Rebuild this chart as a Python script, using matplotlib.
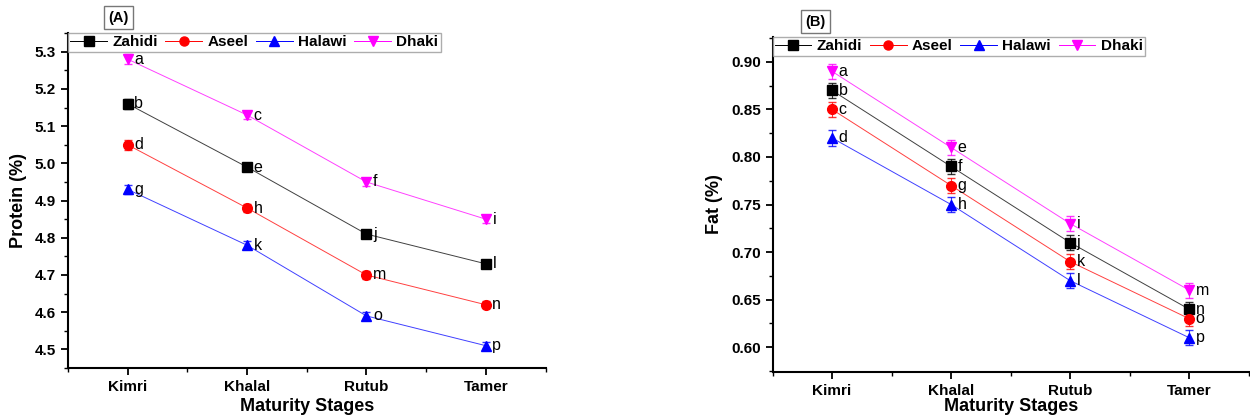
import matplotlib.pyplot as plt
from matplotlib.ticker import MultipleLocator
from matplotlib.lines import Line2D

plt.rcParams['font.family'] = ['Liberation Sans', 'DejaVu Sans']

stages = ['Kimri', 'Khalal', 'Rutub', 'Tamer']
cultivars = ['Zahidi', 'Aseel', 'Halawi', 'Dhaki']

# Protein (%)
protein_zahidi = [5.16, 4.99, 4.81, 4.73]
protein_aseel = [5.05, 4.88, 4.70, 4.62]
protein_halawi = [4.93, 4.78, 4.59, 4.51]
protein_dhaki = [5.28, 5.13, 4.95, 4.85]
protein_err = [0.013, 0.011, 0.011, 0.010]
protein_letters = [['b', 'e', 'j', 'l'], ['d', 'h', 'm', 'n'],
                   ['g', 'k', 'o', 'p'], ['a', 'c', 'f', 'i']]

# Fat (%)
fat_zahidi = [0.87, 0.79, 0.71, 0.64]
fat_aseel = [0.85, 0.77, 0.69, 0.63]
fat_halawi = [0.82, 0.75, 0.67, 0.61]
fat_dhaki = [0.89, 0.81, 0.73, 0.66]
fat_err = [0.008, 0.008, 0.008, 0.008]
fat_letters = [['b', 'f', 'j', 'n'], ['c', 'g', 'k', 'o'],
               ['d', 'h', 'l', 'p'], ['a', 'e', 'i', 'm']]

colors = ['black', 'red', 'blue', 'magenta']
markers = ['s', 'o', '^', 'v']


def draw_panel(ax, series, err, letters, ylabel, ylim, major, minor, tag, tag_x, xpad):
    x = list(range(1, len(stages) + 1))
    handles = []
    for i, vals in enumerate(series):
        ax.plot(x, vals, color=colors[i], lw=0.7, alpha=0.75, zorder=2)
        ax.errorbar(x, vals, yerr=err, fmt='none', ecolor=colors[i],
                    elinewidth=0.8, capsize=3, alpha=0.8, zorder=3)
        ax.plot(x, vals, ls='none', marker=markers[i], markersize=7,
                color=colors[i], zorder=4)
        handles.append(Line2D([], [], color=colors[i], lw=0.7,
                              marker=markers[i], markersize=6.5,
                              label=cultivars[i]))
        for xi, v, lt in zip(x, vals, letters[i]):
            ax.text(xi + 0.055, v, lt, fontsize=11.5, va='center', ha='left')
    ax.set_xlim(0.5, 4.5)
    ax.set_ylim(*ylim)
    ax.set_xticks(x)
    ax.set_xticklabels(stages, fontweight='bold', fontsize=11)
    ax.xaxis.set_minor_locator(MultipleLocator(0.5))
    ax.yaxis.set_major_locator(MultipleLocator(major))
    ax.yaxis.set_minor_locator(MultipleLocator(minor))
    for lbl in ax.get_yticklabels():
        lbl.set_fontweight('bold')
        lbl.set_fontsize(11)
    ax.spines['top'].set_visible(False)
    ax.spines['right'].set_visible(False)
    ax.spines['left'].set_linewidth(1.5)
    ax.spines['bottom'].set_linewidth(1.5)
    ax.tick_params(which='major', direction='out', length=5, width=1.3)
    ax.tick_params(which='minor', direction='out', length=3, width=1.0)
    ax.set_xlabel('Maturity Stages', fontweight='bold', fontsize=13, labelpad=xpad)
    ax.set_ylabel(ylabel, fontweight='bold', fontsize=13, labelpad=6)
    leg = ax.legend(handles=handles, loc='upper left', bbox_to_anchor=(0.0, 1.0),
                    ncol=4, frameon=True, fancybox=False, borderpad=0.15,
                    handlelength=2.4, columnspacing=0.5, handletextpad=0.35,
                    borderaxespad=0.0, prop={'weight': 'bold', 'size': 11})
    leg.get_frame().set_edgecolor('#999999')
    leg.get_frame().set_linewidth(1.0)
    ax.text(tag_x, 1.025, tag, transform=ax.transAxes, fontweight='bold',
            fontsize=10.5, ha='center', va='bottom',
            bbox=dict(boxstyle='square,pad=0.3', fc='white', ec='#777777', lw=1))


fig = plt.figure(figsize=(12.5, 4.17), dpi=100)
ax1 = fig.add_axes([0.0544, 0.1175, 0.382, 0.803])
ax2 = fig.add_axes([0.618, 0.108, 0.381, 0.803])

draw_panel(ax1, [protein_zahidi, protein_aseel, protein_halawi, protein_dhaki],
           protein_err, protein_letters, 'Protein (%)', (4.45, 5.35), 0.1, 0.05,
           '(A)', 0.105, 3)
draw_panel(ax2, [fat_zahidi, fat_aseel, fat_halawi, fat_dhaki],
           fat_err, fat_letters, 'Fat (%)', (0.574, 0.926), 0.05, 0.025,
           '(B)', 0.09, 0.5)

fig.savefig('out.png', dpi=100)
